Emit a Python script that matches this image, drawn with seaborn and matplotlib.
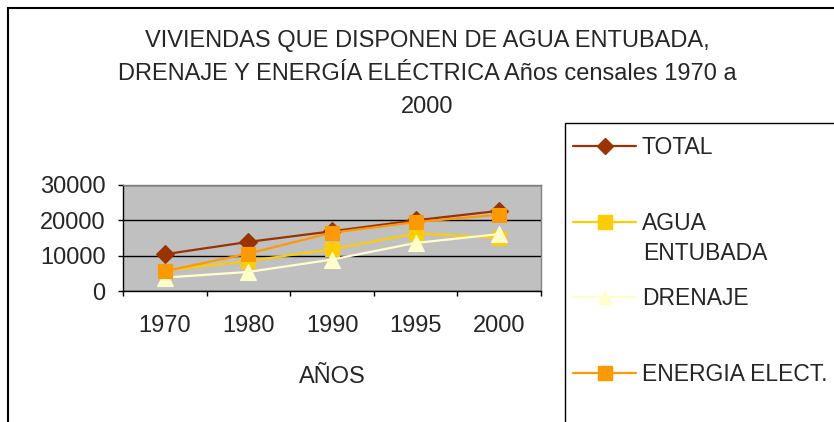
import matplotlib
matplotlib.use("Agg")
import matplotlib.pyplot as plt
import matplotlib.patches as mpatches
import numpy as np
import pandas as pd
import seaborn as sns

# ------------------------------------------------------------------
# Data
# ------------------------------------------------------------------
years = ["1970", "1980", "1990", "1995", "2000"]
total = [10400, 13900, 16900, 20000, 22700]
agua_entubada = [5800, 8500, 11800, 16300, 15000]
drenaje = [3800, 5400, 8900, 13600, 16100]
energia_elect = [5600, 10600, 16500, 19500, 21600]

series_names = ["TOTAL", "AGUA ENTUBADA", "DRENAJE", "ENERGIA ELECT."]
legend_labels = ["TOTAL", "AGUA", "DRENAJE", "ENERGIA ELECT."]
y_ticks = [0, 10000, 20000, 30000]

colors = {"TOTAL": "#993300", "AGUA ENTUBADA": "#FFCC00",
          "DRENAJE": "#FFFFCC", "ENERGIA ELECT.": "#FF9900"}
markers = {"TOTAL": "D", "AGUA ENTUBADA": "s",
           "DRENAJE": "^", "ENERGIA ELECT.": "s"}
msizes = {"TOTAL": 9.5, "AGUA ENTUBADA": 10.5,
          "DRENAJE": 11, "ENERGIA ELECT.": 10.5}

df = pd.DataFrame({
    "year": years * 4,
    "pos": list(range(len(years))) * 4,
    "value": total + agua_entubada + drenaje + energia_elect,
    "serie": sum([[s] * len(years) for s in series_names], []),
})

# ------------------------------------------------------------------
# Style
# ------------------------------------------------------------------
sns.set_style("white")
plt.rcParams["font.family"] = ["Liberation Sans", "DejaVu Sans"]
FS = 17
FS_LEG = 16.5

fig = plt.figure(figsize=(8.34, 4.22), dpi=100)
ax = fig.add_axes([123 / 834, 1 - 291 / 422, 418 / 834, 106 / 422])
ax.set_facecolor("#C0C0C0")

sns.lineplot(data=df, x="pos", y="value", hue="serie", style="serie",
             hue_order=series_names, style_order=series_names,
             palette=colors, markers=markers, dashes=False,
             markeredgewidth=0.8, linewidth=1.6,
             legend=False, ax=ax)
for line, name in zip(ax.lines, series_names):
    line.set_markeredgecolor(colors[name])
    line.set_markersize(msizes[name])

ax.set_xlim(-0.5, len(years) - 0.5)
ax.set_ylim(0, 30000)
ax.set_yticks(y_ticks)
ax.set_yticklabels([str(v) for v in y_ticks], fontsize=FS)
ax.yaxis.grid(True, color="black", linewidth=1)
ax.set_axisbelow(True)

# category boundaries get the tick marks, labels sit in between
ax.set_xticks(np.arange(-0.5, len(years), 1.0))
ax.set_xticklabels([])
ax.set_xticks(range(len(years)), minor=True)
ax.set_xticklabels(years, minor=True, fontsize=FS)
ax.tick_params(axis="x", which="major", direction="out", length=3.6,
               width=1, color="black", bottom=True)
ax.tick_params(axis="x", which="minor", length=0, pad=17)
ax.tick_params(axis="y", direction="out", length=3.6, width=1,
               color="black", left=True, pad=9)

for side in ["left", "bottom"]:
    ax.spines[side].set_color("black")
    ax.spines[side].set_linewidth(1)
for side in ["top", "right"]:
    ax.spines[side].set_color("#808080")
    ax.spines[side].set_linewidth(1)

ax.set_xlabel("AÑOS", fontsize=FS, labelpad=21.5)
ax.set_ylabel("")

fig.suptitle("VIVIENDAS QUE DISPONEN DE AGUA ENTUBADA,\n"
             "DRENAJE Y ENERGÍA ELÉCTRICA Años censales 1970 a\n2000",
             x=427 / 834, y=1 - 30 / 422, va="top", ha="center",
             fontsize=FS, linespacing=1.66)

# outer chart border
fig.add_artist(mpatches.Rectangle((8 / 834, -0.1), 1.2, 1 - 8 / 422 + 0.1,
                                  transform=fig.transFigure, fill=False,
                                  edgecolor="black", linewidth=1.5))
# legend box
fig.add_artist(mpatches.Rectangle((565 / 834, -0.1), 0.5, 1 - 123 / 422 + 0.1,
                                  transform=fig.transFigure, fill=False,
                                  edgecolor="black", linewidth=1))

handles = [plt.Line2D([], [], color=colors[s], marker=markers[s],
                      markersize=msizes[s] - 1, markeredgecolor=colors[s],
                      linewidth=1.6)
           for s in series_names]
leg = fig.legend(handles, legend_labels, loc="upper left",
                 bbox_to_anchor=(573 / 834, 1 - 136 / 422),
                 frameon=False, fontsize=FS_LEG, handlelength=2.75,
                 handletextpad=0.25, labelspacing=2.3, borderaxespad=0,
                 borderpad=0)
fig.text(643 / 834, 1 - 254 / 422, "ENTUBADA", fontsize=FS_LEG,
         va="center", ha="left")

plt.savefig("out.png", dpi=100)
